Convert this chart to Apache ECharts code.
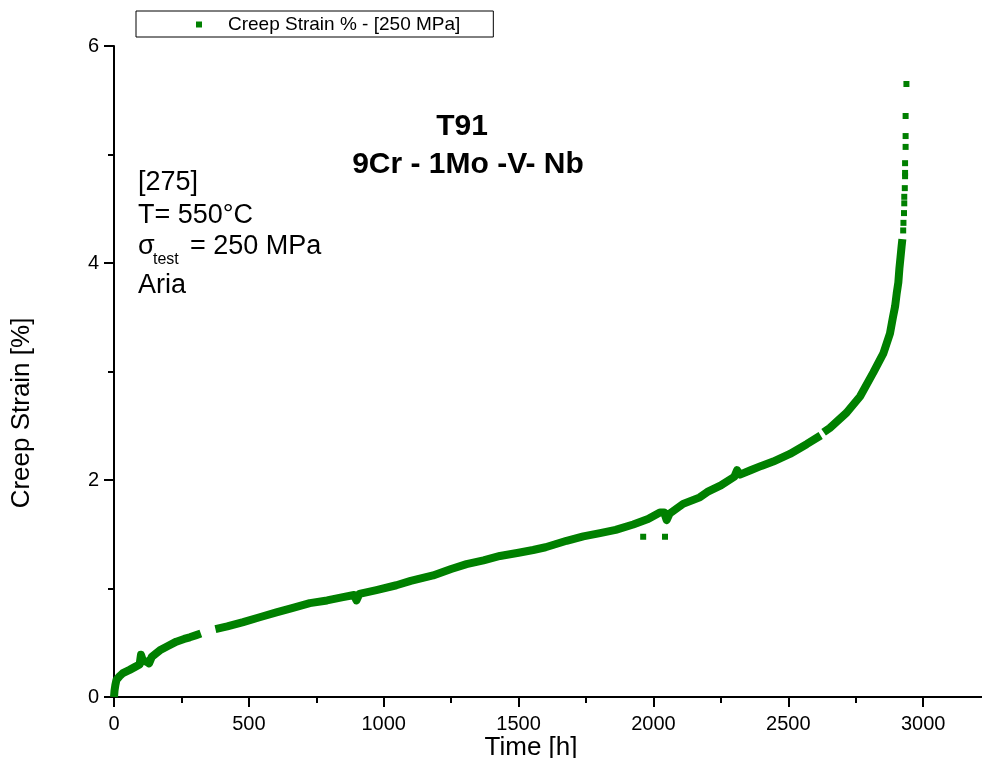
<!DOCTYPE html>
<html>
<head>
<meta charset="utf-8">
<script src="https://cdn.jsdelivr.net/npm/echarts@6/dist/echarts.min.js"></script>
<style>
html,body{margin:0;padding:0;background:#fff;}
#chart{width:982px;height:758px;}
</style>
</head>
<body>
<div id="chart"></div>
<script>
// ---- data ----
var seriesName = 'Creep Strain % - [250 MPa]';
// dense (continuous) part of the creep curve; null = gap in the record
var timeH = [0, 2, 5, 9, 20, 33, 58, 80, 95, 100, 108, 118, 130, 140, 170, 200, 231, 260, 281, 305, 322, 350,
  376, 420, 479, 540, 602, 660, 726, 790, 849, 890, 899, 910, 973, 1047, 1100, 1183, 1250, 1307, 1370, 1431,
  1500, 1554, 1600, 1678, 1740, 1802, 1860, 1925, 1980, 2024, 2040, 2049, 2060, 2110, 2172, 2200, 2250, 2300,
  2310, 2321, 2360, 2400, 2444, 2506, 2568, 2620, 2625, 2631, 2654, 2716, 2766, 2815, 2853, 2877, 2888, 2896,
  2902, 2908, 2912, 2916, 2920, 2923];
var strainPct = [0, 0.06, 0.11, 0.157, 0.19, 0.22, 0.25, 0.28, 0.30, 0.39, 0.33, 0.33, 0.31, 0.37, 0.43, 0.47, 0.51, 0.535, 0.55, 0.57, 0.585, null,
  0.625, 0.65, 0.69, 0.735, 0.78, 0.82, 0.865, 0.89, 0.92, 0.94, 0.89, 0.95, 0.985, 1.03, 1.07, 1.12, 1.18, 1.225, 1.26, 1.30,
  1.33, 1.355, 1.38, 1.44, 1.48, 1.51, 1.54, 1.59, 1.64, 1.70, 1.70, 1.63, 1.69, 1.78, 1.84, 1.89, 1.95, 2.03,
  2.09, 2.05, 2.09, 2.13, 2.17, 2.24, 2.33, 2.41, null, 2.44, 2.48, 2.62, 2.77, 2.99, 3.17, 3.35, 3.50, 3.60,
  3.72, 3.82, 3.95, 4.05, 4.15, 4.22];
// isolated points (outliers and the sparse rupture end)
var sparseTimeH = [1962, 2043, 2926, 2927, 2929, 2930, 2930, 2932, 2933, 2933, 2933, 2935, 2935, 2935, 2938];
var sparseStrainPct = [1.477, 1.477, 4.30, 4.37, 4.46, 4.55, 4.61, 4.69, 4.80, 4.83, 4.92, 5.07, 5.17, 5.355, 5.65];
var xTicks = [0, 500, 1000, 1500, 2000, 2500, 3000];
var yTicks = [0, 2, 4, 6];

var denseData = timeH.map(function (t, i) { return [t, strainPct[i] === null ? '-' : strainPct[i]]; });
var sparseData = sparseTimeH.map(function (t, i) { return [t, sparseStrainPct[i]]; });

var FONT = '"Liberation Sans", Arial, Helvetica, sans-serif';
var GREEN = '#008000';

var chart = echarts.init(document.getElementById('chart'), null, {renderer: 'canvas'});
var axisCommon = {
  axisLine: {show: true, onZero: false, lineStyle: {color: '#000', width: 2}},
  axisTick: {show: true, inside: false, length: 10, lineStyle: {color: '#000', width: 2}},
  minorTick: {show: true, splitNumber: 2, length: 6, lineStyle: {color: '#000', width: 2}},
  splitLine: {show: false},
  minorSplitLine: {show: false}
};
chart.setOption({
  animation: false,
  backgroundColor: '#fff',
  textStyle: {fontFamily: FONT},
  grid: {left: 114, top: 46, bottom: 61, right: -76, containLabel: false, outerBoundsMode: 'none'},
  xAxis: Object.assign({
    type: 'value', min: xTicks[0], max: 3500, interval: 500,
    axisLabel: {color: '#000', fontSize: 20, fontFamily: FONT, margin: 17,
      formatter: function (v) { return xTicks.indexOf(v) >= 0 ? String(v) : ''; }}
  }, axisCommon),
  yAxis: Object.assign({
    type: 'value', min: yTicks[0], max: yTicks[yTicks.length - 1], interval: 2,
    axisLabel: {color: '#000', fontSize: 20, fontFamily: FONT, margin: 15}
  }, axisCommon),
  legend: {
    show: true, left: 136, top: 11, orient: 'horizontal',
    data: [{name: seriesName, icon: 'rect'}],
    itemWidth: 6, itemHeight: 6,
    padding: [4, 33, 3, 60],
    borderColor: '#000', borderWidth: 1,
    textStyle: {color: '#000', fontSize: 19, fontFamily: FONT, padding: [0, 0, 0, 21]},
    itemStyle: {color: GREEN},
    selectedMode: false
  },
  series: [
    {
      name: seriesName, type: 'line', data: denseData,
      showSymbol: false, symbol: 'rect', connectNulls: false,
      lineStyle: {color: GREEN, width: 8, join: 'round'},
      itemStyle: {color: GREEN},
      z: 2
    },
    {
      name: seriesName, type: 'scatter', data: sparseData,
      symbol: 'rect', symbolSize: 6,
      itemStyle: {color: GREEN, opacity: 1},
      z: 3
    }
  ],
  graphic: [
    {type: 'text', x: 462, y: 127, style: {text: 'T91', font: 'bold 30px ' + FONT, fill: '#000', align: 'center', verticalAlign: 'middle'}},
    {type: 'text', x: 468, y: 165, style: {text: '9Cr - 1Mo -V- Nb', font: 'bold 30px ' + FONT, fill: '#000', align: 'center', verticalAlign: 'middle'}},
    {type: 'text', x: 138, y: 183, style: {text: '[275]', font: '27px ' + FONT, fill: '#000', align: 'left', verticalAlign: 'middle'}},
    {type: 'text', x: 138, y: 216, style: {text: 'T= 550°C', font: '27px ' + FONT, fill: '#000', align: 'left', verticalAlign: 'middle'}},
    {type: 'text', x: 138, y: 247, style: {text: 'σ', font: '27px ' + FONT, fill: '#000', align: 'left', verticalAlign: 'middle'}},
    {type: 'text', x: 153, y: 260, style: {text: 'test', font: '16px ' + FONT, fill: '#000', align: 'left', verticalAlign: 'middle'}},
    {type: 'text', x: 190, y: 247, style: {text: '= 250 MPa', font: '27px ' + FONT, fill: '#000', align: 'left', verticalAlign: 'middle'}},
    {type: 'text', x: 138, y: 286, style: {text: 'Aria', font: '27px ' + FONT, fill: '#000', align: 'left', verticalAlign: 'middle'}},
    {type: 'text', x: 22, y: 413, rotation: Math.PI / 2, style: {text: 'Creep Strain [%]', font: '26px ' + FONT, fill: '#000', align: 'center', verticalAlign: 'middle'}},
    {type: 'text', x: 531, y: 748, style: {text: 'Time [h]', font: '26px ' + FONT, fill: '#000', align: 'center', verticalAlign: 'middle'}}
  ]
});
</script>
</body>
</html>
